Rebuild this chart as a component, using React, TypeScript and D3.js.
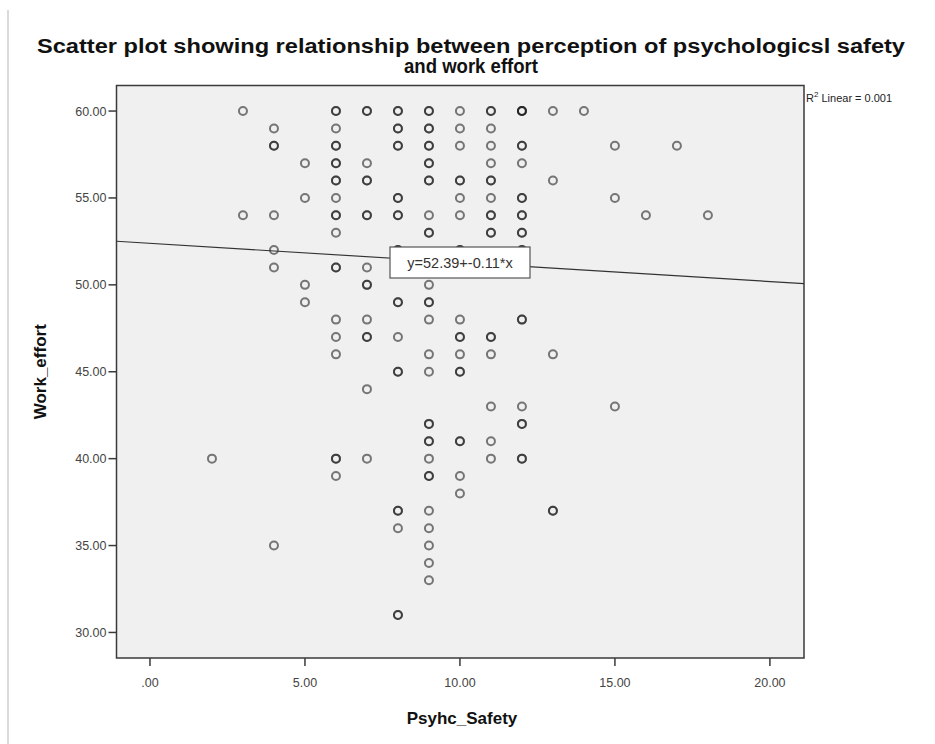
import React from "react";
import * as d3 from "d3";

// Psyc_Safety (x) and Work_effort (y), overlapping cases repeated
const psycSafety: number[] = [
  2,
  3, 3,
  4, 4, 4, 4, 4, 4, 4,
  5, 5, 5, 5,
  6, 6, 6, 6, 6, 6, 6, 6, 6, 6, 6, 6, 6, 6, 6, 6, 6, 6, 6, 6, 6,
  7, 7, 7, 7, 7, 7, 7, 7, 7, 7, 7, 7, 7, 7, 7,
  8, 8, 8, 8, 8, 8, 8, 8, 8, 8, 8, 8, 8, 8, 8, 8, 8, 8, 8, 8, 8, 8,
  9, 9, 9, 9, 9, 9, 9, 9, 9, 9, 9, 9, 9, 9, 9, 9, 9, 9, 9, 9, 9, 9, 9, 9, 9, 9, 9, 9, 9, 9, 9,
  10, 10, 10, 10, 10, 10, 10, 10, 10, 10, 10, 10, 10, 10, 10, 10, 10, 10, 10,
  11, 11, 11, 11, 11, 11, 11, 11, 11, 11, 11, 11, 11, 11, 11, 11, 11, 11,
  12, 12, 12, 12, 12, 12, 12, 12, 12, 12, 12, 12, 12, 12, 12, 12, 12, 12, 12, 12, 12,
  13, 13, 13, 13, 13,
  14,
  15, 15, 15,
  16,
  17,
  18,
];
const workEffort: number[] = [
  40,
  60, 54,
  59, 58, 58, 54, 52, 51, 35,
  57, 55, 50, 49,
  60, 60, 59, 58, 58, 57, 57, 56, 56, 55, 54, 54, 53, 51, 51, 48, 47, 46, 40, 40, 39,
  60, 60, 57, 56, 56, 54, 54, 51, 50, 50, 48, 47, 47, 44, 40,
  60, 60, 59, 59, 58, 58, 55, 55, 54, 54, 52, 52, 49, 49, 47, 45, 45, 37, 37, 36, 31, 31,
  60, 60, 59, 59, 58, 58, 57, 57, 56, 56, 54, 53, 53, 50, 49, 49, 48, 46, 45, 42, 42, 41, 41, 40, 39, 39, 37, 36, 35, 34, 33,
  60, 59, 58, 56, 56, 55, 54, 52, 52, 48, 47, 47, 46, 45, 45, 41, 41, 39, 38,
  60, 60, 59, 58, 57, 56, 56, 55, 54, 54, 53, 53, 47, 47, 46, 43, 41, 40,
  60, 60, 60, 58, 58, 57, 55, 55, 54, 54, 53, 53, 52, 52, 48, 48, 43, 42, 42, 40, 40,
  60, 56, 46, 37, 37,
  60,
  58, 55, 43,
  54,
  58,
  54,
];

const xTicks: number[] = [0, 5, 10, 15, 20];
const yTicks: number[] = [30, 35, 40, 45, 50, 55, 60];
const fitIntercept = 52.39;
const fitSlope = -0.11;
const rSquared = "0.001";

const titleLine1 = "Scatter plot showing relationship between perception of psychologicsl safety";
const titleLine2 = "and work effort";

export default function App() {
  const W = 935;
  const H = 744;
  const left = 116.5;
  const right = 804;
  const top = 85.5;
  const bottom = 658;

  const x = d3.scaleLinear().domain([-1.08, 21.1]).range([left, right]);
  const y = d3.scaleLinear().domain([28.53, 61.47]).range([bottom, top]);
  const fmt = (v: number) => d3.format(".2f")(v).replace(/^0\./, ".");

  const [x0, x1] = x.domain();
  const line = d3.line<number>()
    .x((d) => x(d))
    .y((d) => y(fitIntercept + fitSlope * d));

  const font = "'Liberation Sans', Arial, sans-serif";

  return (
    <svg
      width={W}
      height={H}
      style={{ position: "absolute", left: 0, top: 0, background: "#fff" }}
      fontFamily={font}
    >
      <line x1={8} x2={8} y1={10} y2={H} stroke="#cfcfcf" strokeWidth={1.5} />

      <text x={471} y={53} textAnchor="middle" fontSize={20} fontWeight="bold" fill="#111"
        textLength={868} lengthAdjust="spacingAndGlyphs">{titleLine1}</text>
      <text x={471} y={73} textAnchor="middle" fontSize={20} fontWeight="bold" fill="#111"
        textLength={134} lengthAdjust="spacingAndGlyphs">{titleLine2}</text>

      <rect x={left} y={top} width={right - left} height={bottom - top} fill="#f0f0f0" stroke="#3a3a3a" strokeWidth={1.5} />

      {yTicks.map((t) => (
        <g key={"y" + t}>
          <line x1={left - 8} x2={left} y1={y(t)} y2={y(t)} stroke="#3a3a3a" strokeWidth={1.5} />
          <text x={left - 10} y={y(t) + 4.5} textAnchor="end" fontSize={12.5} fill="#444">{fmt(t)}</text>
        </g>
      ))}
      {xTicks.map((t) => (
        <g key={"x" + t}>
          <line x1={x(t)} x2={x(t)} y1={bottom} y2={bottom + 8} stroke="#3a3a3a" strokeWidth={1.5} />
          <text x={x(t)} y={bottom + 29} textAnchor="middle" fontSize={12.5} fill="#444">{fmt(t)}</text>
        </g>
      ))}

      <text x={462} y={724} textAnchor="middle" fontSize={17} fontWeight="bold" fill="#111">Psyhc_Safety</text>
      <text transform={`translate(46, ${(top + bottom) / 2}) rotate(-90)`} textAnchor="middle" fontSize={17} fontWeight="bold" fill="#111">Work_effort</text>

      <g>
        {psycSafety.map((v, i) => (
          <circle key={i} cx={x(v)} cy={y(workEffort[i])} r={4} fill="none" stroke="#111" strokeOpacity={0.55} strokeWidth={2} />
        ))}
      </g>

      <path d={line([x0, x1]) || ""} fill="none" stroke="#333" strokeWidth={1.2} />

      <rect x={390} y={247} width={140} height={31} fill="#fff" stroke="#555" strokeWidth={1.2} />
      <text x={460} y={268} textAnchor="middle" fontSize={14.5} fill="#333">
        {`y=${fitIntercept}+${fitSlope}*x`}
      </text>

      <text x={806} y={102} fontSize={11} fill="#222">
        R<tspan dy={-5} fontSize={8}>2</tspan><tspan dy={5}> Linear = {rSquared}</tspan>
      </text>
    </svg>
  );
}
